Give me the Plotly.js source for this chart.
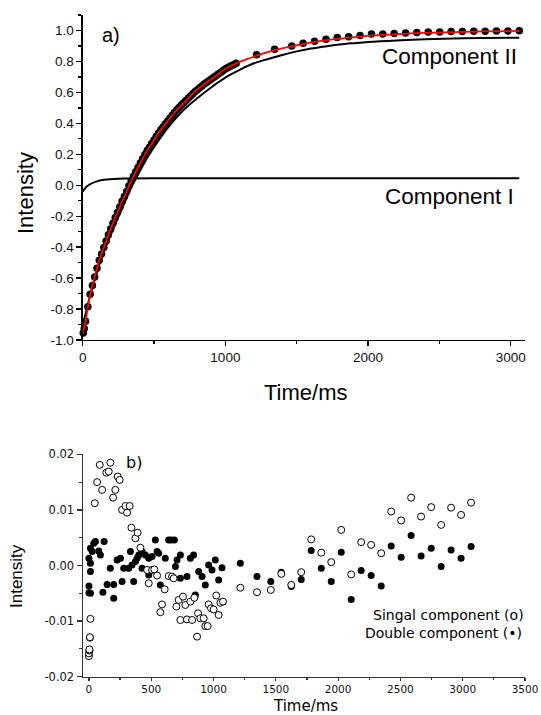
<!DOCTYPE html>
<html>
<head>
<meta charset="utf-8">
<script src="https://cdn.plot.ly/plotly-3.0.1.min.js"></script>
<style>
html,body{margin:0;padding:0;background:#fff;}
#chart{width:541px;height:715px;}
</style>
</head>
<body>
<div id="chart"></div>
<script>
// ---------- Panel a) data ----------
const timeA = [4,11,20,36,52,68,84,100,116,132,148,164,180,196,212,228,244,260,276,292,308,324,340,356,372,388,404,420,436,452,468,484,500,516,532,548,564,580,596,612,628,644,660,676,692,708,724,740,756,772,788,804,820,836,852,868,884,900,916,932,948,964,980,996,1012,1028,1044,1060,1076,
  1219,1345,1465,1545,1625,1705,1784,1864,1944,2024,2103,2183,2263,2342,2422,2502,2582,2661,2741,2821,2900,2980,3060];
const intensityA = [-0.955,-0.925,-0.879,-0.786,-0.704,-0.648,-0.593,-0.536,-0.485,-0.444,-0.403,-0.361,-0.320,-0.283,-0.246,-0.209,-0.176,-0.140,-0.103,-0.072,-0.040,-0.004,0.028,0.058,0.087,0.115,0.143,0.171,0.198,0.224,0.246,0.269,0.292,0.316,0.337,0.358,0.378,0.397,0.415,0.434,0.452,0.470,0.488,0.503,0.518,0.533,0.548,0.562,0.577,0.592,0.605,0.617,0.630,0.642,0.654,0.664,0.675,0.685,0.696,0.706,0.717,0.727,0.738,0.749,0.758,0.766,0.773,0.780,0.788,
  0.843,0.878,0.899,0.918,0.930,0.944,0.955,0.960,0.967,0.977,0.978,0.981,0.984,0.987,0.990,0.991,0.994,0.994,0.995,0.995,0.996,0.996,0.998];

const fitTime = [0,18,33,44,63,82,98,117,138,159,180,203,226,252,275,303,327,355,385,416,448,486,523,565,612,659,717,775,845,927,1009,1079,1150,1250,1350,1450,1550,1650,1750,1850,1950,2050,2200,2400,2600,2800,3060];
const fitValue = [-0.96,-0.89,-0.805,-0.745,-0.665,-0.600,-0.542,-0.482,-0.429,-0.374,-0.320,-0.267,-0.213,-0.159,-0.105,-0.051,0.003,0.056,0.110,0.164,0.218,0.272,0.326,0.379,0.434,0.487,0.541,0.595,0.649,0.703,0.757,0.789,0.815,0.847,0.874,0.896,0.914,0.929,0.942,0.952,0.961,0.968,0.977,0.985,0.990,0.994,0.997];

const comp1Time = [0,10,28,50,75,100,121,150,191,250,308,500,3060];
const comp1Value = [-0.041,-0.028,-0.008,0.006,0.017,0.025,0.030,0.035,0.039,0.042,0.043,0.045,0.045];

const comp2Time = [0,50,100,150,200,250,300,350,400,450,500,600,700,800,900,1000,1100,1200,1300,1400,1500,1600,1700,1800,1900,2000,2200,2400,2600,2800,3060];
const comp2Value = [-0.91,-0.72,-0.562,-0.425,-0.312,-0.204,-0.099,0.004,0.090,0.175,0.246,0.375,0.480,0.560,0.632,0.695,0.745,0.788,0.816,0.842,0.865,0.883,0.897,0.909,0.918,0.926,0.936,0.943,0.948,0.951,0.953];

// ---------- Panel b) data ----------
const timeSingle = [0,0,4,4,8,8,12,47,66,87,106,140,159,172,194,212,231,247,266,293,306,327,341,373,391,413,
  467,480,507,525,547,573,587,608,640,667,680,702,720,734,755,774,787,814,828,846,868,876,894,921,934,953,961,980,1001,1022,1041,1055,1076,
  1215,1349,1460,1544,1624,1704,1784,1865,1945,2025,2105,2185,2265,2346,2426,2506,2586,2666,2747,2827,2907,2987,3067];
const resSingle = [-0.0163,-0.0158,-0.0153,-0.0151,-0.0130,-0.0129,-0.0096,0.0112,0.0150,0.0181,0.0136,0.0167,0.0169,0.0185,0.0122,0.0136,0.0160,0.0154,0.0100,0.0107,0.0095,0.0107,0.0068,0.0049,0.0059,0.0032,
  -0.0008,-0.0032,-0.0008,-0.0007,-0.0018,-0.0084,-0.0070,-0.0043,-0.0019,-0.0020,-0.0023,-0.0074,-0.0062,-0.0098,-0.0056,-0.0071,-0.0097,-0.0065,-0.0098,-0.0058,-0.0128,-0.0086,-0.0095,-0.0095,-0.0109,-0.0109,-0.0070,-0.0077,-0.0079,-0.0054,-0.0089,-0.0067,-0.0065,
  -0.0040,-0.0048,-0.0044,-0.0015,-0.0035,-0.0012,0.0047,0.0023,0.0006,0.0064,-0.0016,0.0042,0.0037,0.0022,0.0097,0.0081,0.0122,0.0088,0.0105,0.0073,0.0104,0.0091,0.0113];

const timeDouble = [0,0,0,12,12,12,12,26,39,52,79,92,112,122,146,172,199,199,226,253,266,279,319,333,346,359,373,386,400,426,426,453,480,480,507,533,547,560,573,613,640,659,686,694,707,734,734,787,814,840,854,881,908,934,961,988,1014,1041,1068,
  1215,1349,1460,1544,1624,1704,1784,1865,1945,2025,2105,2185,2265,2346,2426,2506,2586,2666,2747,2827,2907,2987,3067];
const resDouble = [0.0013,-0.0037,-0.0049,0.0031,0.0004,-0.0011,-0.0050,0.0025,0.0040,0.0043,0.0026,0.0019,-0.0048,0.0043,-0.0034,-0.0005,-0.0034,-0.0059,0.0010,0.0013,-0.0029,-0.0005,-0.0005,0.0025,0.0001,-0.0029,0.0007,0.0013,0.0019,0.0025,-0.0005,0.0019,0.0013,-0.0017,0.0016,0.0046,0.0025,0.0022,-0.0035,0.0013,0.0046,0.0046,0.0046,-0.0002,0.0010,0.0019,-0.0023,-0.0020,0.0013,0.0019,-0.0053,-0.0011,-0.0020,-0.0035,0.0001,-0.0008,0.0010,-0.0026,-0.0004,
  0.0004,-0.0020,-0.0029,-0.0012,-0.0038,-0.0025,0.0027,-0.0005,-0.0029,0.0024,-0.0061,-0.0009,-0.0018,-0.0037,0.0035,0.0015,0.0054,0.0017,0.0031,-0.0002,0.0028,0.0013,0.0034];

const yTicksA = [-1.0,-0.8,-0.6,-0.4,-0.2,0.0,0.2,0.4,0.6,0.8,1.0];
const xTicksA = [0,1000,2000,3000];
const yTicksB = [-0.02,-0.01,0.00,0.01,0.02];
const xTicksB = [0,500,1000,1500,2000,2500,3000,3500];

// ---------- traces ----------
const traces = [
  {x: comp2Time, y: comp2Value, type:'scatter', mode:'lines', line:{color:'#000', width:2, shape:'spline'}, xaxis:'x', yaxis:'y', cliponaxis:false},
  {x: comp1Time, y: comp1Value, type:'scatter', mode:'lines', line:{color:'#000', width:2, shape:'spline'}, xaxis:'x', yaxis:'y', cliponaxis:false},
  {x: timeA, y: intensityA, type:'scatter', mode:'markers', marker:{color:'#000', size:7.5}, xaxis:'x', yaxis:'y', cliponaxis:false},
  {x: fitTime, y: fitValue, type:'scatter', mode:'lines', line:{color:'#ff0000', width:1.8, shape:'spline'}, xaxis:'x', yaxis:'y', cliponaxis:false},
  {x: timeDouble, y: resDouble, type:'scatter', mode:'markers', marker:{color:'#000', size:7}, xaxis:'x2', yaxis:'y2', cliponaxis:false},
  {x: timeSingle, y: resSingle, type:'scatter', mode:'markers', marker:{color:'#fff', size:7, line:{color:'#000', width:1}}, xaxis:'x2', yaxis:'y2', cliponaxis:false}
];

const fA = 'Liberation Sans, Arial, sans-serif';
const fB = 'DejaVu Sans, sans-serif';
const xDom = [82.7/541, 525/541];

function axisBase(font){
  return {showline:true, linecolor:'#000', linewidth:1.3, ticks:'outside', tickcolor:'#000', tickwidth:1.3,
    showgrid:false, zeroline:false, mirror:false, fixedrange:true, tickfont:{family:font, color:'#111'}};
}

const layout = {
  width:541, height:715,
  margin:{l:0, r:0, t:0, b:0},
  paper_bgcolor:'#fff', plot_bgcolor:'#fff',
  showlegend:false,
  xaxis: Object.assign(axisBase(fA), {domain:xDom, anchor:'y', range:[0,3100], tickmode:'array', tickvals:xTicksA, ticktext:xTicksA.map(String), ticklen:5,
    tickfont:{family:fA, size:13.5, color:'#111'}, minor:{dtick:500, tick0:0, ticklen:3, ticks:'outside', tickcolor:'#000', tickwidth:1.3, showgrid:false}}),
  yaxis: Object.assign(axisBase(fA), {domain:[0.5245, 0.979], anchor:'x', range:[-1,1.1], tickmode:'array', tickvals:yTicksA, ticktext:yTicksA.map(v=>v.toFixed(1)), ticklen:5,
    tickfont:{family:fA, size:13.5, color:'#111'}, minor:{dtick:0.1, tick0:0, ticklen:3, ticks:'outside', tickcolor:'#000', tickwidth:1.3, showgrid:false}}),
  xaxis2: Object.assign(axisBase(fB), {domain:xDom, anchor:'y2', range:[-50,3500], tickmode:'array', tickvals:xTicksB, ticktext:xTicksB.map(String), ticklen:3,
    linecolor:'#333', tickcolor:'#333', tickwidth:1.2, linewidth:1.2,
    tickfont:{family:fB, size:10.5, color:'#111'}, minor:{dtick:250, tick0:0, ticklen:2, ticks:'outside', tickcolor:'#333', tickwidth:1.2, showgrid:false}}),
  yaxis2: Object.assign(axisBase(fB), {domain:[0.0536, 0.3646], anchor:'x2', range:[-0.02,0.02], tickmode:'array', tickvals:yTicksB, ticktext:yTicksB.map(v=>v.toFixed(2)), ticklen:5,
    linecolor:'#333', tickcolor:'#333', tickwidth:1.2, linewidth:1.2,
    tickfont:{family:fB, size:11.5, color:'#111'}, minor:{dtick:0.005, tick0:0, ticklen:3, ticks:'outside', tickcolor:'#333', tickwidth:1.2, showgrid:false}}),
  annotations: [
    {text:'a)', xref:'paper', yref:'paper', x:111/541, y:1-35/715, xanchor:'center', yanchor:'middle', showarrow:false, font:{family:fA, size:20, color:'#000'}},
    {text:'Component II', xref:'x', yref:'y', x:3060, y:0.83, xanchor:'right', yanchor:'middle', showarrow:false, font:{family:fA, size:22.5, color:'#000'}},
    {text:'Component I', xref:'x', yref:'y', x:3040, y:-0.075, xanchor:'right', yanchor:'middle', showarrow:false, font:{family:fA, size:22.5, color:'#000'}},
    {text:'Intensity', xref:'paper', yref:'paper', x:25.5/541, y:1-193.5/715, textangle:-90, xanchor:'center', yanchor:'middle', showarrow:false, font:{family:fA, size:22, color:'#000'}},
    {text:'Time/ms', xref:'paper', yref:'paper', x:305.5/541, y:1-392/715, xanchor:'center', yanchor:'middle', showarrow:false, font:{family:fA, size:22, color:'#000'}},
    {text:'b)', xref:'paper', yref:'paper', x:134/541, y:1-462/715, xanchor:'center', yanchor:'middle', showarrow:false, font:{family:fB, size:16, color:'#000'}},
    {text:'Intensity', xref:'paper', yref:'paper', x:16.5/541, y:1-576.5/715, textangle:-90, xanchor:'center', yanchor:'middle', showarrow:false, font:{family:fA, size:17, color:'#000'}},
    {text:'Time/ms', xref:'paper', yref:'paper', x:305.5/541, y:1-705.5/715, xanchor:'center', yanchor:'middle', showarrow:false, borderpad:0, font:{family:fB, size:15, color:'#000'}},
    {text:'Singal component (o)', xref:'paper', yref:'paper', x:526/541, y:1-615/715, xanchor:'right', yanchor:'middle', showarrow:false, font:{family:fB, size:14, color:'#000'}},
    {text:'Double component (•)', xref:'paper', yref:'paper', x:524.3/541, y:1-633/715, xanchor:'right', yanchor:'middle', showarrow:false, font:{family:fB, size:14, color:'#000'}}
  ]
};

Plotly.newPlot('chart', traces, layout, {displayModeBar:false, staticPlot:true});
</script>
</body>
</html>
